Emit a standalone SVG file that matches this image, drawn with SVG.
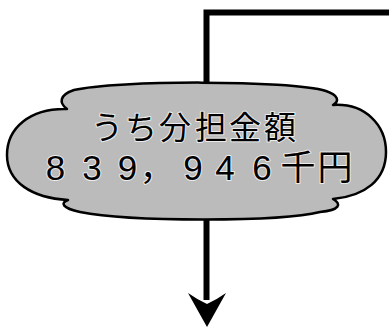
<svg xmlns="http://www.w3.org/2000/svg" width="389" height="328" viewBox="0 0 389 328">
<style>
.conn{fill:none;stroke:#000;stroke-width:6}
.cloud{fill:#bbbbbb;stroke:#000;stroke-width:2.5;stroke-linejoin:round}
.lbl{font-family:"Liberation Sans","Noto Sans CJK JP","Noto Sans CJK SC",sans-serif;fill:#000;text-anchor:middle;stroke:#ececec;stroke-width:2;paint-order:stroke;stroke-linejoin:round}
</style>
<g id="connectors">
<path class="conn" d="M389,12.5 H206.5 V84"/>
<path class="conn" d="M206.5,219 V300"/>
<path d="M207,327 L188,293 Q198,300 207,304 Q216,300 226,293 Z" fill="#000"/>
</g>
<g id="node-share">
<path class="cloud" d="M67,109 C59,103 59,95 74,90 C115,80 290,80 326,91 C338,95 340,101 333,105 C365,103 386,125 386,152 C386,180 365,196 333,199 C342,204 340,210 320,212 C280,222 130,222 80,212 C62,208 60,203 68,200 C32,198 7,182 7,155 C7,128 30,108 67,109 Z"/>
<text class="lbl"><tspan font-size="32" x="107 141 175 211 245 280" y="139">うち分担金額</tspan><tspan font-size="35" x="55.5 92 127.5 157 193 225 262 298 335" y="180">839，946千円</tspan></text>
</g>
</svg>
